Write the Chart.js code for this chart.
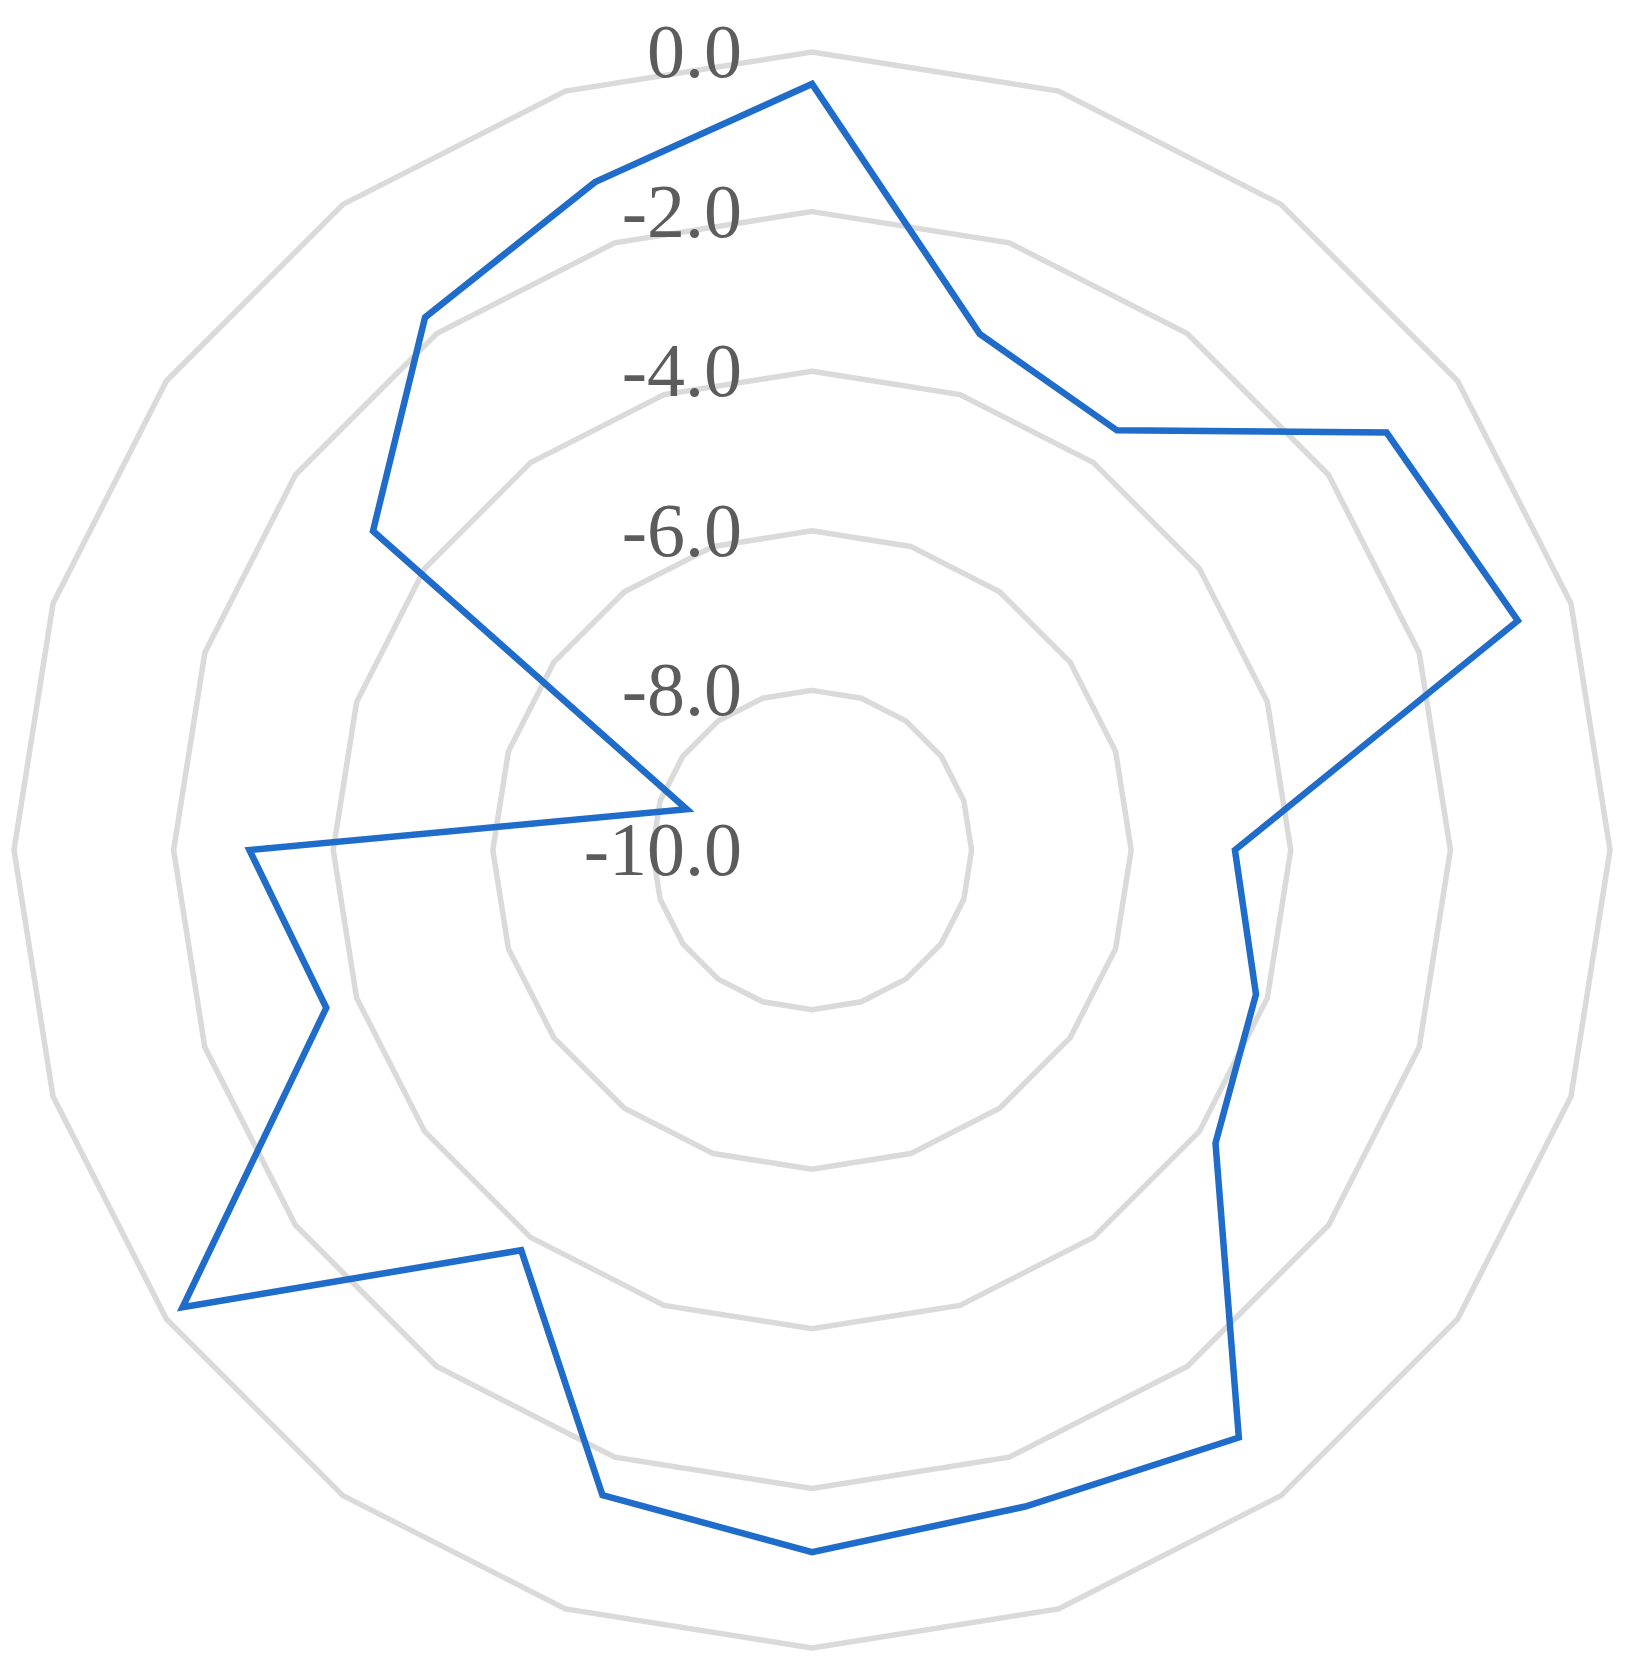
<!DOCTYPE html>
<html lang="en">
<head>
    <meta charset="UTF-8">
    <title>Radar</title>
    <script src="https://cdn.jsdelivr.net/npm/chart.js"></script>
    <style>
        body { margin: 0; background: #fff; }
    </style>
</head>
<body>
    <canvas id="myChart" width="1633" height="1668"></canvas>
    <script>
        // 20 spokes, no visible category labels
        const categories = ['1', '2', '3', '4', '5', '6', '7', '8', '9', '10',
                            '11', '12', '13', '14', '15', '16', '17', '18', '19', '20'];
        const values = [-0.4, -3.2, -3.5, -1.1, -0.7, -4.7, -4.15, -3.75, -0.9, -1.35,
                        -1.2, -1.5, -3.8, -0.25, -3.6, -2.95, -8.35, -3.2, -1.75, -1.2];
        const tickValues = [-10, -8, -6, -4, -2, 0];

        // tick labels are drawn right-aligned left of the vertical axis
        const tickLabelPlugin = {
            id: 'tickLabels',
            afterDatasetsDraw(chart) {
                const scale = chart.scales.r;
                const ctx = chart.ctx;
                ctx.save();
                ctx.font = '76px "Liberation Serif"';
                ctx.fillStyle = '#5c5c5c';
                ctx.textAlign = 'right';
                ctx.textBaseline = 'middle';
                tickValues.forEach(v => {
                    const d = scale.getDistanceFromCenterForValue(v);
                    ctx.fillText(v.toFixed(1), scale.xCenter - 70, scale.yCenter - d + 5);
                });
                ctx.restore();
            }
        };

        const ctx = document.getElementById('myChart').getContext('2d');
        const myChart = new Chart(ctx, {
            type: 'radar',
            data: {
                labels: categories,
                datasets: [{
                    data: values,
                    borderColor: '#1f6ccb',
                    borderWidth: 6.5,
                    borderJoinStyle: 'miter',
                    fill: false,
                    pointRadius: 0,
                    tension: 0
                }]
            },
            options: {
                responsive: false,
                animation: false,
                devicePixelRatio: 1,
                layout: { padding: { left: 14, right: 23, top: 52, bottom: 20 } },
                plugins: { legend: { display: false }, tooltip: { enabled: false } },
                scales: {
                    r: {
                        min: -10,
                        max: 0,
                        ticks: { display: false, stepSize: 2 },
                        pointLabels: { display: false },
                        angleLines: { display: false },
                        grid: { color: '#dadada', lineWidth: 5.5 }
                    }
                }
            },
            plugins: [tickLabelPlugin]
        });
    </script>
</body>
</html>
